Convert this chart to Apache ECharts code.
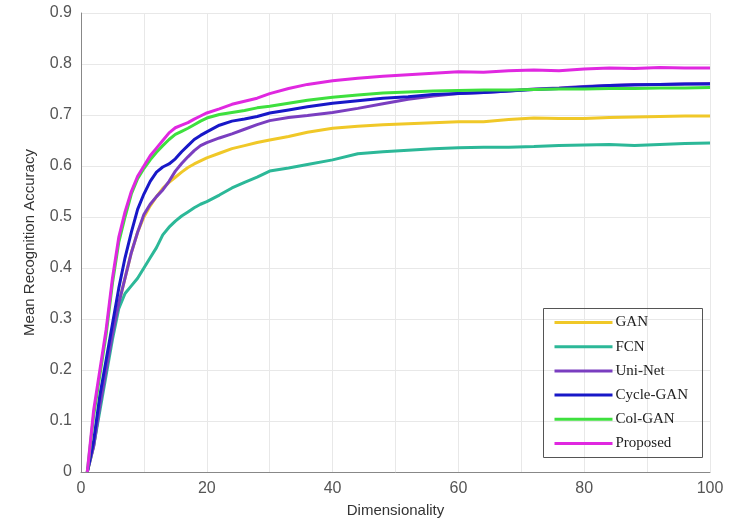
<!DOCTYPE html>
<html>
<head>
<meta charset="utf-8">
<script src="https://cdn.jsdelivr.net/npm/echarts@6/dist/echarts.min.js"></script>
<style>
html,body{margin:0;padding:0;background:#fff;}
#chart{width:729px;height:527px;}
</style>
</head>
<body>
<div id="chart"></div>
<script>
const dims = [1,2,3,4,5,6,7,8,9,10,11,12,13,14,15,16,17,18,19,20,22,24,26,28,30,33,36,40,44,48,52,56,60,64,68,72,76,80,84,88,92,96,100];
const seriesNames = ['GAN','FCN','Uni-Net','Cycle-GAN','Col-GAN','Proposed'];
const gan = [0,0.05,0.13,0.2,0.27,0.33,0.38,0.43,0.47,0.50,0.522,0.54,0.556,0.568,0.578,0.588,0.597,0.604,0.61,0.616,0.625,0.634,0.64,0.646,0.651,0.658,0.666,0.674,0.678,0.681,0.683,0.685,0.687,0.687,0.691,0.694,0.693,0.693,0.695,0.696,0.697,0.698,0.698];
const fcn = [0,0.05,0.12,0.19,0.26,0.32,0.35,0.365,0.38,0.40,0.42,0.44,0.465,0.48,0.492,0.502,0.51,0.518,0.525,0.53,0.543,0.557,0.568,0.578,0.59,0.596,0.603,0.612,0.624,0.628,0.631,0.634,0.636,0.637,0.637,0.638,0.64,0.641,0.642,0.64,0.642,0.644,0.645];
const uniNet = [0,0.05,0.13,0.2,0.27,0.33,0.38,0.43,0.47,0.505,0.525,0.54,0.553,0.57,0.59,0.605,0.618,0.63,0.64,0.646,0.655,0.663,0.672,0.681,0.689,0.695,0.699,0.705,0.713,0.722,0.731,0.737,0.742,0.744,0.747,0.751,0.753,0.756,0.758,0.76,0.76,0.761,0.762];
const cycleGan = [0,0.06,0.15,0.22,0.29,0.36,0.42,0.47,0.515,0.545,0.57,0.588,0.598,0.604,0.614,0.628,0.64,0.652,0.66,0.667,0.68,0.688,0.692,0.697,0.704,0.71,0.716,0.723,0.728,0.733,0.736,0.74,0.742,0.744,0.747,0.75,0.752,0.755,0.758,0.759,0.76,0.761,0.761];
const colGan = [0,0.11,0.19,0.27,0.37,0.45,0.50,0.545,0.575,0.595,0.612,0.627,0.64,0.652,0.662,0.668,0.674,0.681,0.688,0.694,0.701,0.705,0.709,0.714,0.717,0.723,0.729,0.735,0.739,0.743,0.745,0.747,0.748,0.749,0.749,0.75,0.751,0.751,0.752,0.752,0.753,0.753,0.754];
const proposed = [0,0.12,0.2,0.28,0.38,0.46,0.51,0.55,0.58,0.60,0.62,0.635,0.65,0.665,0.675,0.68,0.685,0.692,0.698,0.704,0.712,0.721,0.727,0.733,0.742,0.752,0.76,0.767,0.772,0.776,0.779,0.782,0.785,0.784,0.787,0.788,0.787,0.79,0.792,0.791,0.793,0.792,0.792];
const colors = ['#f0c828','#2cb898','#7a3ec0','#1818c8','#3ee03e','#e028e0'];

const allValues = [gan, fcn, uniNet, cycleGan, colGan, proposed];
const series = seriesNames.map((name, i) => ({
  name: name,
  type: 'line',
  data: dims.map((d, j) => [d, allValues[i][j]]),
  symbol: 'none',
  showSymbol: false,
  smooth: false,
  lineStyle: { width: 3, color: colors[i] },
  itemStyle: { color: colors[i] },
  z: 2 + i
}));

const chart = echarts.init(document.getElementById('chart'), null, { renderer: 'canvas' });
chart.setOption({
  backgroundColor: '#fff',
  animation: false,
  grid: { left: 81, right: 19, top: 13, bottom: 55, containLabel: false },
  xAxis: {
    type: 'value', min: 0, max: 100, interval: 10,
    name: 'Dimensionality', nameLocation: 'middle', nameGap: 31,
    nameTextStyle: { fontFamily: 'Liberation Sans', fontSize: 15, color: '#333' },
    axisLine: { show: true, lineStyle: { color: '#888', width: 1 } },
    axisTick: { show: false },
    axisLabel: { fontFamily: 'Liberation Sans', fontSize: 16, color: '#555', margin: 9,
      formatter: v => (v % 20 === 0 ? String(v) : '') },
    splitLine: { show: true, lineStyle: { color: '#e8e8e8', width: 1 } }
  },
  yAxis: {
    type: 'value', min: 0, max: 0.9, interval: 0.1,
    name: 'Mean Recognition Accuracy', nameLocation: 'middle', nameGap: 44,
    nameTextStyle: { fontFamily: 'Liberation Sans', fontSize: 15, color: '#333' },
    axisLine: { show: true, lineStyle: { color: '#888', width: 1 } },
    axisTick: { show: false },
    axisLabel: { fontFamily: 'Liberation Sans', fontSize: 16, color: '#555', margin: 9,
      formatter: v => (Math.abs(v) < 1e-9 ? '0' : (Math.round(v * 10) / 10).toString()) },
    splitLine: { show: true, lineStyle: { color: '#e8e8e8', width: 1 } }
  },
  legend: {
    orient: 'vertical', left: 553, top: 315,
    itemWidth: 58, itemHeight: 14, itemGap: 9.2, padding: 0,
    data: seriesNames,
    itemStyle: { opacity: 0 },
    lineStyle: { width: 3 },
    textStyle: { fontFamily: 'Liberation Serif', fontSize: 15, color: '#222', padding: [0, 0, 0, -2] }
  },
  graphic: [{
    type: 'rect', left: 541, top: 306, z: 100, silent: true,
    shape: { width: 159, height: 149 },
    style: { fill: 'none', stroke: '#555', lineWidth: 1 }
  }],
  series: series
});
</script>
</body>
</html>
